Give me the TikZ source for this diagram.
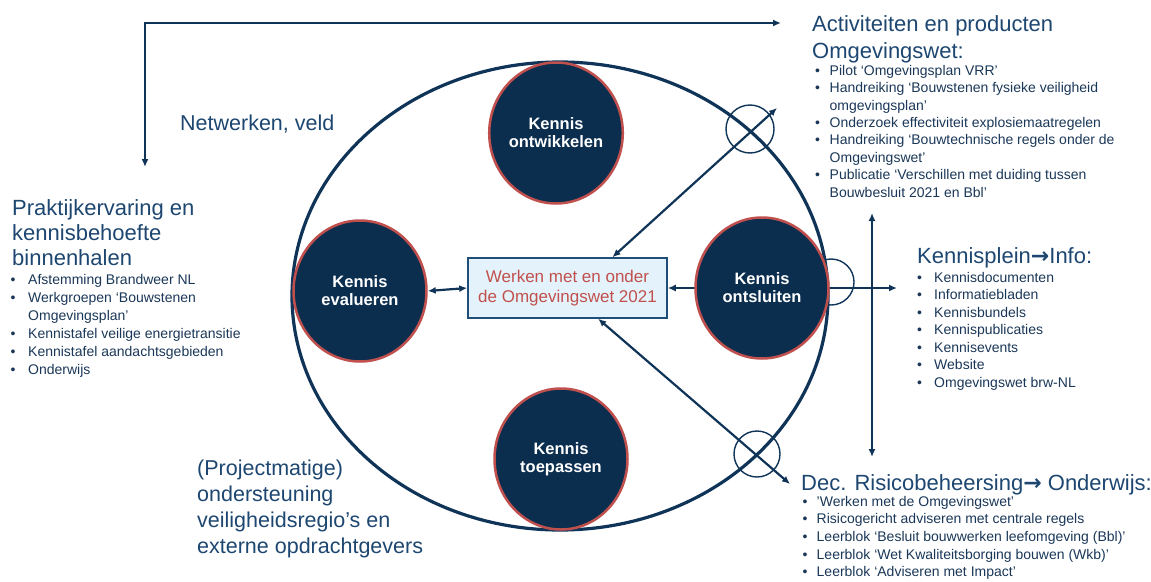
\documentclass[tikz,border=0pt]{standalone}
\usepackage{fontspec}
\setmainfont{Liberation Sans}
\newfontfamily\arrowfont{DejaVu Sans}
\usetikzlibrary{shapes.geometric,arrows.meta,calc}

\definecolor{navyfill}{HTML}{0B2E4F}
\definecolor{linec}{HTML}{0F3457}
\definecolor{redb}{HTML}{C0504D}
\definecolor{titlec}{HTML}{1D4670}
\definecolor{bulc}{HTML}{1A3758}
\definecolor{boxfill}{HTML}{E4F3FB}
\definecolor{boxline}{HTML}{1F4E79}
\definecolor{boxtext}{HTML}{C0504D}

\newlength\bind
\newcommand\bl[1]{\makebox[\bind][l]{•}#1}
\newcommand\bc[1]{\hspace*{\bind}#1}
\newcommand\rarr{{\arrowfont\bfseries →}}

\begin{document}
\begin{tikzpicture}[x=1pt,y=-1pt,
  kennis/.style={ellipse, draw=redb, line width=2.5pt, fill=navyfill,
    minimum width=133pt, minimum height=141pt, inner sep=0pt, text=white,
    font=\bfseries\fontsize{16.5}{18}\selectfont, align=center},
  ptitle/.style={anchor=north west, inner sep=0pt, text=titlec, align=left},
  plist/.style={anchor=north west, inner sep=0pt, text=bulc, align=left},
  arr/.style={draw=linec, line width=2.2pt,
    {Latex[length=8pt,width=7pt]}-{Latex[length=8pt,width=7pt]}},
  ring/.style={draw=linec, line width=1.4pt, circle, inner sep=0pt}
]
\useasboundingbox (0,0) rectangle (1151,581);

% big ellipse
\node[ellipse, draw=linec, line width=3.2pt, minimum width=536pt,
  minimum height=468pt, inner sep=0pt] (big) at (560,296) {};

% small rings
\node[ring, minimum size=48pt] (r1) at (750,129) {};
\node[ring, minimum size=46pt] (r2) at (831,282) {};
\node[ring, minimum size=46pt] (r3) at (757,454) {};

% central box
\node[draw=boxline, line width=1.5pt, fill=boxfill, minimum width=199pt,
  minimum height=60pt, inner sep=0pt, align=center, text=boxtext,
  font=\fontsize{17}{20}\selectfont] (box) at (567.5,288)
  {Werken met en onder\\de Omgevingswet 2021};

% free ends
\coordinate (tr) at (777,108);
\coordinate (br) at (790,484);
\coordinate (hr) at (897,288);
\coordinate (vt) at (872,213);
\coordinate (vb) at (872,457);
\coordinate (lt) at (145,167);
\coordinate (corner) at (145,23);
\coordinate (rt) at (781,23);

% arrows
\draw[arr] ($(box.north west)!0.724!(box.north east)$) -- (tr);
\draw[arr] ($(box.south west)!0.653!(box.south east)$) -- (br);
\draw[arr] (box.east) -- (hr);
\draw[arr] (vt) -- (vb);
\draw[arr] (lt) -- (corner) -- (rt);

% kennis circles
\node[kennis] (ontw) at (556,133) {Kennis\\ontwikkelen};
\node[kennis] (eval) at (360,291) {Kennis\\evalueren};
\node[kennis] (onts) at (762,288) {Kennis\\ontsluiten};
\node[kennis] (toep) at (561,459) {Kennis\\toepassen};
\draw[arr] (eval.east) -- (box.west);

% texts
\node[ptitle, font=\fontsize{21.5}{25}\selectfont] (netw) at (180,115) {Netwerken, veld};

\node[ptitle, font=\fontsize{22}{25}\selectfont] (t1) at (12,199)
  {Praktijkervaring en\\kennisbehoefte\\binnenhalen};
\setlength\bind{17.5pt}
\node[plist, font=\fontsize{14}{18}\selectfont] (l1) at (10.5,274)
  {\bl{Afstemming Brandweer NL}\\
   \bl{Werkgroepen ‘Bouwstenen}\\
   \bc{Omgevingsplan’}\\
   \bl{Kennistafel veilige energietransitie}\\
   \bl{Kennistafel aandachtsgebieden}\\
   \bl{Onderwijs}};

\node[ptitle, font=\fontsize{22}{27}\selectfont] (t2) at (812,15)
  {Activiteiten en producten\\Omgevingswet:};
\setlength\bind{14.5pt}
\node[plist, font=\fontsize{14}{17.4}\selectfont] (l2) at (815,65)
  {\bl{Pilot ‘Omgevingsplan VRR’}\\
   \bl{Handreiking ‘Bouwstenen fysieke veiligheid}\\
   \bc{omgevingsplan’}\\
   \bl{Onderzoek effectiviteit explosiemaatregelen}\\
   \bl{Handreiking ‘Bouwtechnische regels onder de}\\
   \bc{Omgevingswet’}\\
   \bl{Publicatie ‘Verschillen met duiding tussen}\\
   \bc{Bouwbesluit 2021 en Bbl’}};

\node[ptitle, font=\fontsize{22}{26}\selectfont] (t3) at (917,247)
  {Kennisplein\rarr Info:};
\setlength\bind{17pt}
\node[plist, font=\fontsize{14}{17.5}\selectfont] (l3) at (917,272)
  {\bl{Kennisdocumenten}\\
   \bl{Informatiebladen}\\
   \bl{Kennisbundels}\\
   \bl{Kennispublicaties}\\
   \bl{Kennisevents}\\
   \bl{Website}\\
   \bl{Omgevingswet brw-NL}};

\node[ptitle, font=\fontsize{22}{26}\selectfont] (t4) at (801,474)
  {Dec. Risicobeheersing\rarr{} Onderwijs:};
\setlength\bind{14pt}
\node[plist, font=\fontsize{14}{17.6}\selectfont] (l4) at (802.5,496)
  {\bl{’Werken met de Omgevingswet’}\\
   \bl{Risicogericht adviseren met centrale regels}\\
   \bl{Leerblok ‘Besluit bouwwerken leefomgeving (Bbl)’}\\
   \bl{Leerblok ‘Wet Kwaliteitsborging bouwen (Wkb)’}\\
   \bl{Leerblok ‘Adviseren met Impact’}};

\node[ptitle, font=\fontsize{21.5}{26}\selectfont] (t5) at (197,460)
  {(Projectmatige)\\ondersteuning\\veiligheidsregio’s en\\externe opdrachtgevers};
\end{tikzpicture}
\end{document}
